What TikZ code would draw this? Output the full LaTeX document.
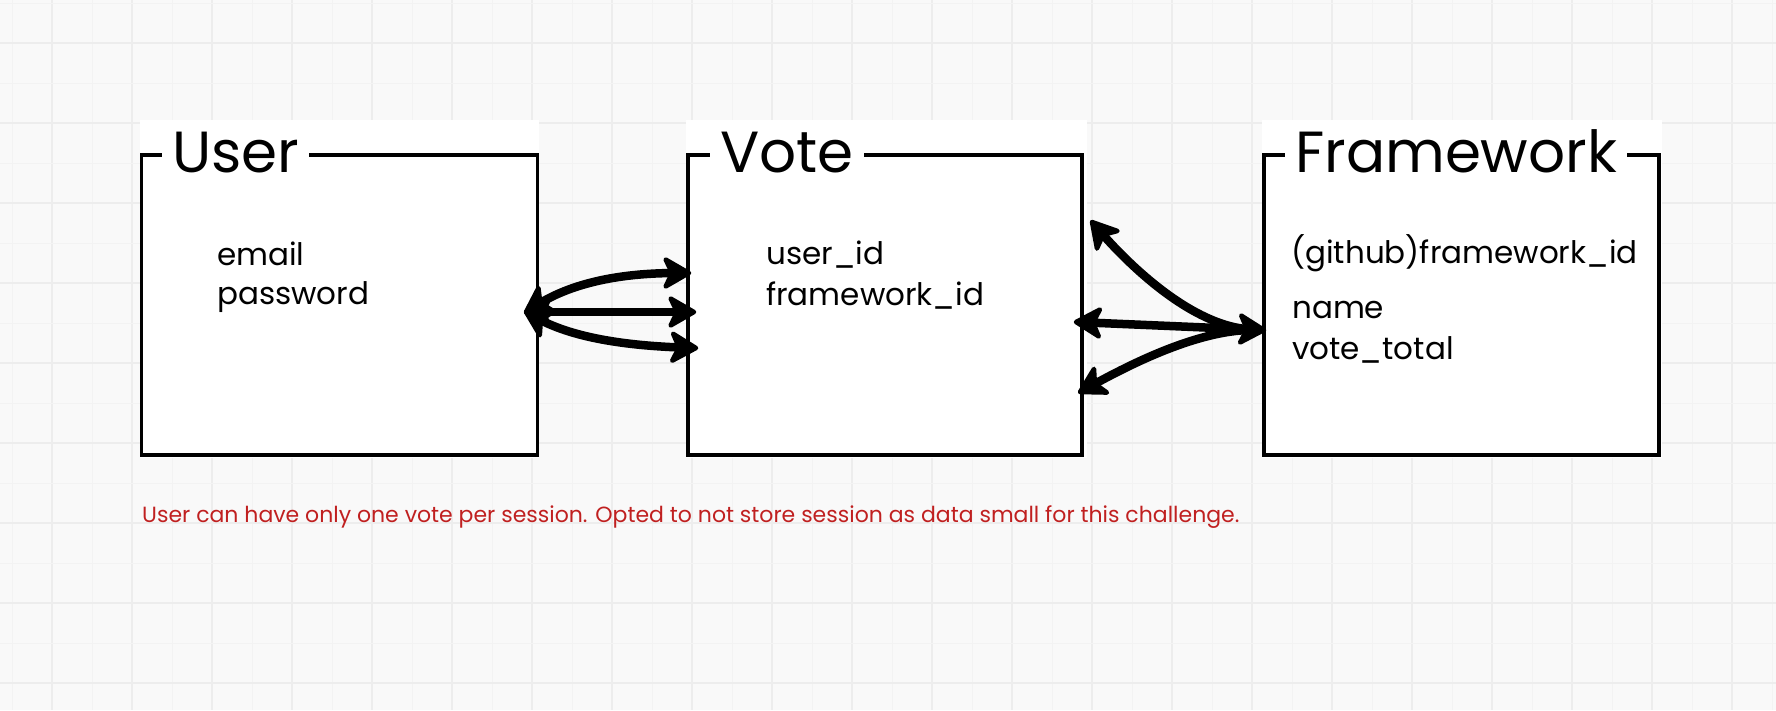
\documentclass[tikz,border=0pt]{standalone}
\usepackage{fontspec}
\setmainfont{Poppins}
\usetikzlibrary{calc}
\definecolor{bgc}{RGB}{249,249,249}
\definecolor{gridA}{RGB}{237,237,237}
\definecolor{gridB}{RGB}{243,243,243}
\definecolor{notec}{RGB}{192,32,32}
\newcommand\sketchhead[2]{%
  \fill[headstyle] (#1) -- ($(#1)!27pt!-30:(#2)$) -- ($(#1)!17pt!(#2)$) -- ($(#1)!27pt!30:(#2)$) -- cycle;}
\begin{document}
\begin{tikzpicture}[x=1pt,y=-1pt,
  conn/.style={line width=8.5pt, line cap=round},
  headstyle/.style={draw=black, fill=black, line width=4.5pt, line join=round},
  ebox/.style={draw, line width=3.5pt, inner sep=0pt},
  ttl/.style={fill=white, inner xsep=10pt, inner ysep=2pt, anchor=base west, font=\fontsize{58}{70}\selectfont},
  fld/.style={anchor=base west, inner sep=0pt, font=\fontsize{31}{36}\selectfont},
  notestyle/.style={anchor=base west, inner sep=0pt, text=notec, font=\fontsize{22}{26}\selectfont}]
\useasboundingbox (0,0) rectangle (1776,710);
\fill[bgc] (0,0) rectangle (1776,710);
% grid
\foreach \i in {0,...,22} {
  \draw[gridB, line width=1pt] (12+80*\i,0) -- (12+80*\i,710);
  \draw[gridA, line width=2pt] (52+80*\i,0) -- (52+80*\i,710);
}
\foreach \j in {0,...,9} {
  \draw[gridB, line width=1pt] (0,3+80*\j) -- (1776,3+80*\j);
  \draw[gridA, line width=2pt] (0,43+80*\j) -- (1776,43+80*\j);
}
% white backgrounds of entities
\fill[white] (140,120) rectangle (539,458);
\fill[white] (686,120) rectangle (1087,458);
\fill[white] (1262,120) rectangle (1662,458);
% boxes
\node[ebox, minimum width=396pt, minimum height=300pt] (user) at (339.5,305) {};
\node[ebox, minimum width=394pt, minimum height=300pt] (vote) at (885,305) {};
\node[ebox, minimum width=395pt, minimum height=300pt] (fwk) at (1461.5,305) {};
% titles
\node[ttl] (userT) at (162,172) {User};
\node[ttl] (voteT) at (710,172) {Vote};
\node[ttl] (fwkT) at (1285,172) {Framework};
% fields
\node[fld] (u1) at (217,265) {email};
\node[fld] (u2) at (217,304) {password};
\node[fld] (v1) at (766,264) {user\_id};
\node[fld] (v2) at (766,305) {framework\_id};
\node[fld] (f1) at (1291,263) {(github)framework\_id};
\node[fld] (f2) at (1292,318) {name};
\node[fld] (f3) at (1292,359) {vote\_total};
% connectors user - vote
\coordinate (uv0) at (526,312);
\coordinate (uv1) at (689,273);
\coordinate (uv2) at (694,312);
\coordinate (uv3) at (696,348);
\coordinate (c1a) at (576,280);
\coordinate (c1b) at (629,273);
\coordinate (c3a) at (576,340);
\coordinate (c3b) at (636,346);
\draw[conn, shorten <=12pt, shorten >=12pt] (uv0) .. controls (c1a) and (c1b) .. (uv1);
\draw[conn, shorten <=12pt, shorten >=12pt] (uv0) .. controls (c3a) and (c3b) .. (uv3);
\draw[conn, shorten <=12pt, shorten >=12pt] (uv0) -- (uv2);
\sketchhead{uv0}{c1a}
\sketchhead{uv0}{c3a}
\sketchhead{uv0}{uv2}
\sketchhead{uv1}{c1b}
\sketchhead{uv2}{uv0}
\sketchhead{uv3}{c3b}
% connectors vote - framework
\coordinate (fw) at (1264,330);
\coordinate (vf1) at (1092,222);
\coordinate (vf2) at (1076,322);
\coordinate (vf3) at (1080,392);
\coordinate (c5a) at (1189,327);
\coordinate (c5b) at (1122,257);
\coordinate (c6a) at (1194,330);
\coordinate (c6b) at (1120,370);
\draw[conn, shorten <=12pt, shorten >=12pt] (fw) .. controls (c5a) and (c5b) .. (vf1);
\draw[conn, shorten <=12pt, shorten >=12pt] (fw) .. controls (c6a) and (c6b) .. (vf3);
\draw[conn, shorten <=12pt, shorten >=12pt] (vf2) -- (fw);
\sketchhead{vf1}{c5b}
\sketchhead{vf3}{c6b}
\sketchhead{vf2}{fw}
\sketchhead{fw}{vf2}
% note
\node[notestyle] (note) at (142,522) {User can have only one vote per session. Opted to not store session as data small for this challenge.};
\end{tikzpicture}
\end{document}
